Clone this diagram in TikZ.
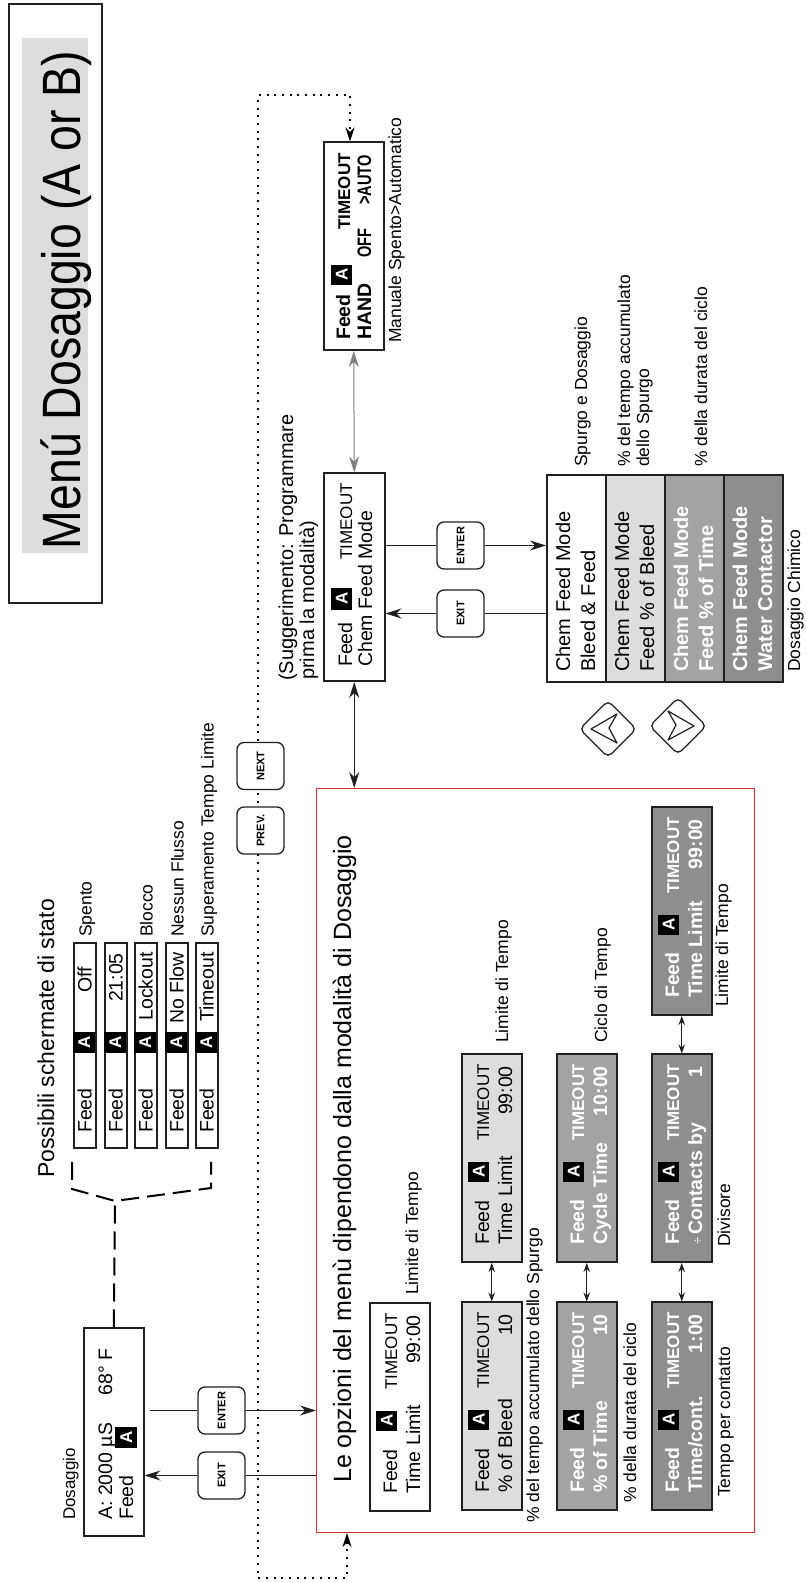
\documentclass[tikz,border=0pt]{standalone}
\usepackage{fontspec}
\setmainfont{Liberation Sans}
\usetikzlibrary{arrows.meta,shapes.geometric}

\definecolor{boxline}{RGB}{35,31,32}
\definecolor{lightfill}{RGB}{221,221,221}
\definecolor{midfill}{RGB}{163,163,163}
\definecolor{darkfill}{RGB}{142,142,142}
\definecolor{framered}{RGB}{222,44,44}

\newcommand{\fsz}[1]{\fontsize{#1}{#1}\selectfont}

% one controller screen: name, corner X, corner Y, box style, text style,
% left and right part of the second line
\newcommand{\lcdscreen}[7]{%
    \node[#4] (#1) at (#2, #3) {};
    \node[#5, anchor=base west] (#1-feed) at (#2 + 18, #3 + 28) {Feed};
    \node[chanmark, anchor=north west] (#1-mark) at (#2 + 81, #3 + 7) {A};
    \node[#5, anchor=base west] (#1-time) at (#2 + 122, #3 + 28) {\fsz{17}TIMEOUT};
    \node[#5, anchor=base west] (#1-left) at (#2 + 18, #3 + 51) {#6};
    \node[#5, anchor=base east] (#1-right) at (#2 + 197, #3 + 51) {#7};
}

\begin{document}
\begin{tikzpicture}
    [ x=1pt, y=1pt,
      font={\fsz{17.5}},
      screen/.style={draw=boxline, line width=1.5pt, anchor=north west,
                     minimum width=208pt, minimum height=60pt, inner sep=0pt},
      plainscreen/.style={screen, fill=white},
      lightscreen/.style={screen, fill=lightfill},
      midscreen/.style={screen, fill=midfill},
      darkscreen/.style={screen, fill=darkfill},
      statebox/.style={screen, fill=white, minimum width=205pt, minimum height=22pt},
      lcd/.style={inner sep=0pt, text=black, font={\fsz{19.5}}},
      lcdbold/.style={inner sep=0pt, text=white, font={\bfseries\fsz{19.5}}},
      lcdblack/.style={inner sep=0pt, text=black, font={\bfseries\fsz{19.5}}},
      chanmark/.style={fill=black, text=white, font={\bfseries\fsz{17}},
                       minimum width=20pt, minimum height=21pt, inner sep=0pt},
      note/.style={inner sep=0pt, anchor=base west, font={\fsz{17.5}}},
      key/.style={draw=boxline, line width=1.3pt, rounded corners=7pt, fill=white,
                  minimum size=47pt, inner sep=0pt, font={\bfseries\fsz{11}}},
      arrowkey/.style={draw=boxline, line width=1.3pt, diamond, rounded corners=5pt,
                       minimum size=57pt, inner sep=0pt},
      line/.style={draw=boxline, line width=1pt},
      flow/.style={line, -{Stealth[length=16pt,width=10pt]}},
      twoway/.style={line, {Stealth[length=16pt,width=10pt]}-{Stealth[length=16pt,width=10pt]}},
      pair/.style={line, line width=0.9pt,
                   {Stealth[length=9pt,width=6.5pt]}-{Stealth[length=9pt,width=6.5pt]}},
      dotline/.style={line width=2pt, dash pattern=on 2pt off 5.7pt,
                      {Stealth[length=14pt,width=9pt]}-{Stealth[length=14pt,width=9pt]}},
      dashline/.style={line width=2pt, dash pattern=on 18pt off 8pt}
    ]
    \useasboundingbox (0,0) rectangle (806,1583);

    % the page is drawn lying down: X runs along the text, Y downwards
    \begin{scope}[rotate=90, y=-1pt, transform shape]

    % Title
    \node[draw=boxline, line width=1.5pt, anchor=north west,
          minimum width=599pt, minimum height=93pt] (titlebox) at (979,8) {};
    \node[fill=lightfill, anchor=north west,
          minimum width=515pt, minimum height=66pt] (titleband) at (1030,22) {};
    \node[inner sep=0pt, anchor=base, font={\fsz{54}}, xscale=0.86]
        (title) at (1283,80) {Menú Dosaggio (A or B)};

    % Main screen
    \node[note, font={\fsz{17}}] (dos-title) at (63,75) {Dosaggio};
    \node[plainscreen] (dosbox) at (46,83) {};
    \node[lcd, anchor=base west] (dos-read) at (63,112) {A: 2000 µS};
    \node[lcd, anchor=base east] (dos-temp) at (235,112) {68° F};
    \node[lcd, anchor=base west] (dos-feed) at (63,133) {Feed};
    \node[chanmark, anchor=north west, minimum width=21pt, minimum height=22pt]
        (dos-mark) at (135,115) {A};

    % Status screens
    \node[note, font={\fsz{23}}] (state-title) at (405,54) {Possibili schermate di stato};
    \foreach \row/\ypos/\state/\stateend/\remark in
        {1/73/Off/616/Spento, 2/104/21:05/630/, 3/134/Lockout/631/Blocco,
         4/165/No Flow/631/Nessun Flusso, 5/195/Timeout/631/Superamento Tempo Limite} {
        \node[statebox] (state\row) at (434,\ypos) {};
        \node[lcd, anchor=base west] (state\row-feed) at (450,\ypos+18.5) {Feed};
        \node[chanmark, anchor=north west, minimum height=22pt, minimum width=21pt]
            (state\row-mark) at (530,\ypos) {A};
        \node[lcd, anchor=base east] (state\row-state) at (\stateend,\ypos+18.5) {\state};
        \node[note] (state\row-note) at (646,\ypos+18.5) {\remark};
    }

    % Brace from the main screen to the status screens
    \coordinate (apex) at (382,115);
    \coordinate (brace-l) at (394,72);
    \coordinate (brace-lt) at (421,72);
    \coordinate (brace-r) at (395,211);
    \coordinate (brace-rt) at (421,211);
    \draw[dashline] (brace-lt) -- (brace-l) -- (apex) -- (brace-r) -- (brace-rt);
    \draw[dashline] (dosbox.east) -- (apex);

    % Menu options frame
    \node[draw=framered, line width=1pt, anchor=north west,
          minimum width=744pt, minimum height=438pt] (optbox) at (50,316) {};
    \node[note, font={\fsz{25}}] (opt-title) at (100,351)
        {Le opzioni del menù dipendono dalla modalità di Dosaggio};

    \lcdscreen{limit}{71}{369}{plainscreen}{lcd}{Time Limit}{99:00}
    \lcdscreen{bleed}{72}{461}{lightscreen}{lcd}{\% of Bleed}{10}
    \lcdscreen{bleedlimit}{320}{461}{lightscreen}{lcd}{Time Limit}{99:00}
    \lcdscreen{timepct}{72}{556}{midscreen}{lcdbold}{\% of Time}{10}
    \lcdscreen{cycle}{320}{556}{midscreen}{lcdbold}{Cycle Time}{10:00}
    \lcdscreen{percont}{72}{651}{darkscreen}{lcdbold}{Time/cont.}{1:00}
    \lcdscreen{divide}{320}{651}{darkscreen}{lcdbold}{{\mdseries\fsz{13}÷}\,Contacts by}{1}
    \lcdscreen{contlimit}{567}{651}{darkscreen}{lcdbold}{Time Limit}{99:00}

    \draw[pair] (bleed.east) -- (bleedlimit.west);
    \draw[pair] (timepct.east) -- (cycle.west);
    \draw[pair] (percont.east) -- (divide.west);
    \draw[pair] (divide.east) -- (contlimit.west);

    \node[note] (limit-note) at (288,418) {Limite di Tempo};
    \node[note] (bleed-note) at (60,539) {\% del tempo accumulato dello Spurgo};
    \node[note] (bleedlimit-note) at (540,508) {Limite di Tempo};
    \node[note] (timepct-note) at (80,636) {\% della durata del ciclo};
    \node[note] (cycle-note) at (540,607) {Ciclo di Tempo};
    \node[note] (percont-note) at (86,730) {Tempo per contatto};
    \node[note] (divide-note) at (336,730) {Divisore};
    \node[note] (contlimit-note) at (576,728) {Limite di Tempo};

    % Chemical feed mode screen
    \node[note, font={\fsz{20}}] (hint1) at (902,293) {(Suggerimento: Programmare};
    \node[note, font={\fsz{20}}] (hint2) at (903,314) {prima la modalità)};
    \node[plainscreen, minimum height=61pt] (mode) at (901,323) {};
    \node[lcd, anchor=base west] (mode-feed) at (916,352) {Feed};
    \node[chanmark, anchor=north west, minimum width=22pt] (mode-mark) at (973,331) {A};
    \node[lcd, anchor=base west, font={\fsz{17}}] (mode-time) at (1023,352) {TIMEOUT};
    \node[lcd, anchor=base west] (mode-name) at (916,372) {Chem Feed Mode};

    % Hand / off / auto screen
    \node[plainscreen] (hand) at (1232,323) {};
    \node[lcdblack, anchor=base west] (hand-feed) at (1243,350) {Feed};
    \node[chanmark, anchor=north west] (hand-mark) at (1298,331) {A};
    \node[lcdblack, anchor=base west, font={\bfseries\fsz{17}}] (hand-time) at (1353,350) {TIMEOUT};
    \node[lcdblack, anchor=base west] (hand-hand) at (1243,371) {HAND};
    \node[lcdblack, anchor=base west, xscale=0.75] (hand-off) at (1325,371) {OFF};
    \node[lcdblack, anchor=base east, xscale=0.75] (hand-auto) at (1428,371) {>AUTO};
    \node[note] (hand-note) at (1240,401) {Manuale Spento>Automatico};

    \draw[twoway] (mode.west) -- (optbox.east |- mode.west);
    \draw[twoway, draw=gray] (hand.west) -- (mode.east);

    % Feed mode list
    \foreach \i/\ypos/\boxsty/\txtsty/\second in
        {1/546/plainscreen/lcd/Bleed \& Feed, 2/605/lightscreen/lcd/Feed \% of Bleed,
         3/664/midscreen/lcdbold/Feed \% of Time, 4/723/darkscreen/lcdbold/Water Contactor} {
        \node[\boxsty, minimum width=207pt, minimum height=59pt] (item\i) at (900,\ypos) {};
        \node[\txtsty, anchor=base west] (item\i-a) at (911,\ypos+24) {\fsz{20}Chem Feed Mode};
        \node[\txtsty, anchor=base west] (item\i-b) at (911,\ypos+49) {\fsz{20}\second};
    }
    \node[note] (item1-note) at (1116,587) {Spurgo e Dosaggio};
    \node[note] (item2-note) at (1116,630) {\% del tempo accumulato};
    \node[note] (item2-more) at (1116,649) {dello Spurgo};
    \node[note] (item3-note) at (1116,707) {\% della durata del ciclo};
    \node[note] (list-note) at (911,800) {Dosaggio Chimico};

    % Up and down keys
    \node[arrowkey] (upkey) at (854,608) {};
    \node[arrowkey] (downkey) at (857,678) {};
    \draw[line, line width=1.2pt, line join=round]
        (854,591) -- (869,617) -- (855,609) -- (840,617) -- cycle;
    \draw[line, line width=1.2pt, line join=round]
        (857,694) -- (872,668) -- (858,676) -- (843,668) -- cycle;

    % Loop back from the last screen
    \coordinate (loop-a) at (5,347);
    \coordinate (loop-b) at (5,258);
    \coordinate (loop-c) at (1488,258);
    \coordinate (loop-d) at (1488,350);
    \draw[dotline] (optbox.west |- loop-a) -- (loop-a) -- (loop-b)
        -- (loop-c) -- (loop-d) -- (hand.east |- loop-d);

    % Keys
    \node[key] (enter) at (172.5,221.5) {ENTER};
    \node[key] (exit) at (107.5,221.5) {EXIT};
    \node[key] (prev) at (752.5,260.5) {PREV.};
    \node[key] (next) at (817,260.5) {NEXT};
    \node[key] (enter2) at (1037.5,460.5) {ENTER};
    \node[key] (exit2) at (969.5,460.5) {EXIT};

    \draw[line, shorten <=5pt] (enter |- dosbox.south) -- (enter.north);
    \draw[flow] (enter.south) -- (enter |- optbox.north);
    \draw[line] (exit |- optbox.north) -- (exit.south);
    \draw[flow] (exit.north) -- (exit |- dosbox.south);

    \draw[line] (enter2 |- mode.south) -- (enter2.north);
    \draw[flow] (enter2.south) -- (enter2 |- item1.north);
    \draw[line] (exit2 |- item1.north) -- (exit2.south);
    \draw[flow] (exit2.north) -- (exit2 |- mode.south);

    \end{scope}
\end{tikzpicture}
\end{document}
